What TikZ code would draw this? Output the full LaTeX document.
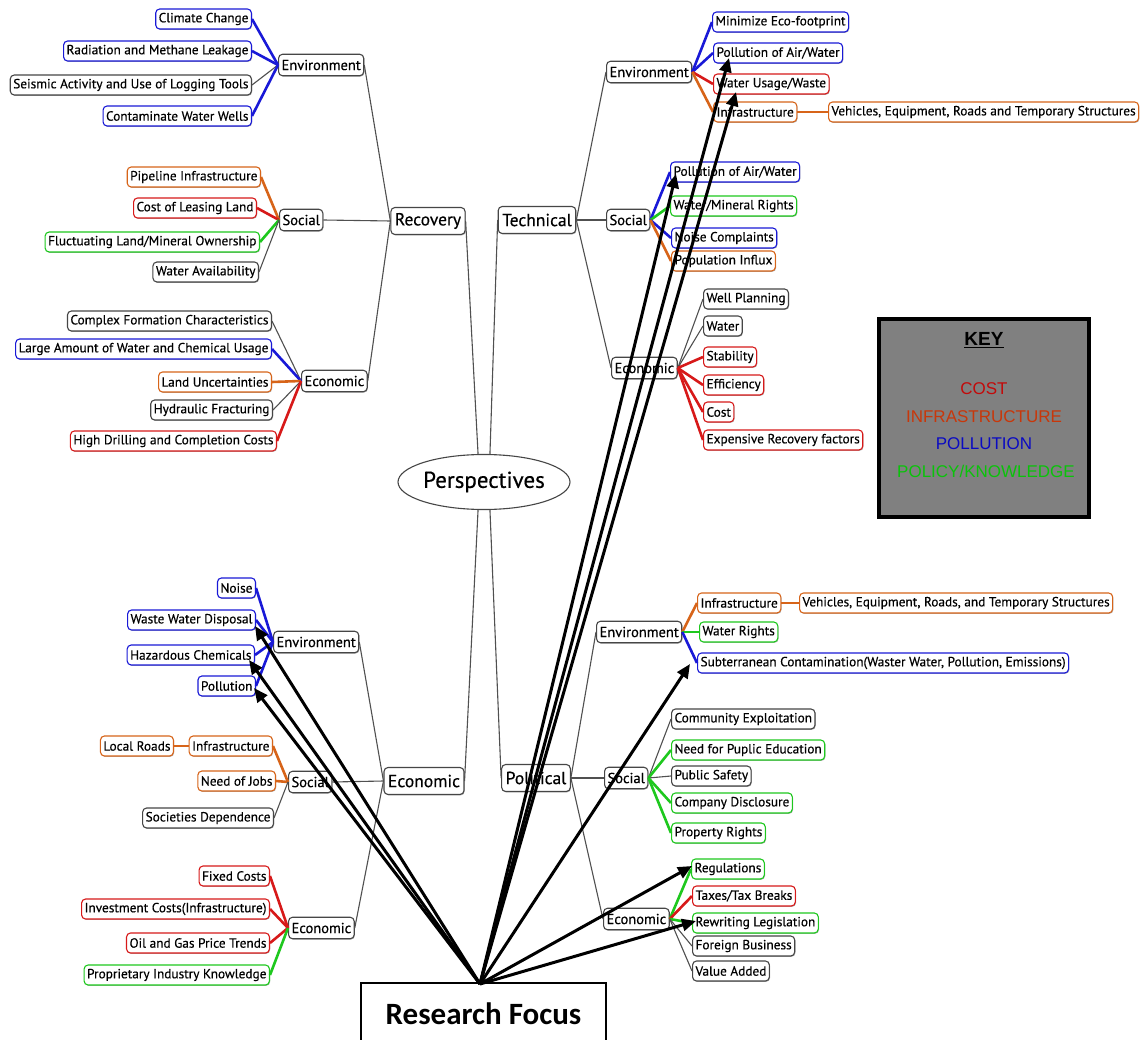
\documentclass[tikz,border=0pt]{standalone}
\usepackage{fontspec}
\setmainfont{PT Sans}
\newfontfamily\nodefont[FakeBold=0.4]{PT Sans}
\newfontfamily\keyfont{Liberation Sans}
\newfontfamily\focusfont{Carlito}
\usetikzlibrary{arrows.meta,shapes.geometric,shadows}

\definecolor{catblue}{RGB}{25,25,215}
\definecolor{catred}{RGB}{215,25,25}
\definecolor{catgreen}{RGB}{30,200,30}
\definecolor{catorange}{RGB}{215,100,25}
\definecolor{boxgrey}{RGB}{70,70,70}
\definecolor{linkgrey}{RGB}{80,80,80}
\definecolor{keygrey}{RGB}{128,128,128}
\definecolor{keyred}{RGB}{195,10,10}
\definecolor{keyorange}{RGB}{200,55,10}
\definecolor{keyblue}{RGB}{10,10,195}
\definecolor{keygreen}{RGB}{10,195,10}

\newcommand\lfsz{\nodefont\fontsize{13.3}{15}\selectfont}
\newcommand\sbsz{\nodefont\fontsize{14.5}{16}\selectfont}
\newcommand\mnsz{\nodefont\fontsize{17.5}{20}\selectfont}
\newcommand\pfsz{\nodefont\fontsize{23}{25}\selectfont}

\begin{document}
\begin{tikzpicture}[x=1pt,y=-1pt,
  box/.style={draw=boxgrey, fill=white, rounded corners=4pt, line width=1.1pt,
    inner xsep=3pt, inner ysep=1pt, text=black,
    drop shadow={shadow xshift=0.7pt, shadow yshift=-0.9pt, opacity=0.3, fill=black}},
  leaf/.style={box, font=\lfsz, minimum height=20pt},
  subnode/.style={box, font=\sbsz, minimum height=21.5pt},
  topic/.style={box, font=\mnsz, minimum height=27pt, inner xsep=4pt},
  cb/.style={draw=catblue}, cr/.style={draw=catred},
  cg/.style={draw=catgreen}, co/.style={draw=catorange},
  ln/.style={draw=linkgrey, line width=1.1pt},
  lb/.style={draw=catblue, line width=2.6pt},
  lr/.style={draw=catred, line width=2.6pt},
  lg/.style={draw=catgreen, line width=2.6pt},
  lo/.style={draw=catorange, line width=2.6pt},
  lochain/.style={draw=catorange, line width=1.6pt},
  focusarrow/.style={draw=black, line width=3pt, -{Triangle[length=14pt,width=12pt]}},
  keytext/.style={font=\keyfont\fontsize{17}{19}\selectfont}
]
\useasboundingbox (0,0) rectangle (1143,1040);
\fill[white] (0,0) rectangle (1143,1040);

% ---------- centre ----------
\node[ellipse, draw=boxgrey, line width=1.1pt, fill=white, minimum width=144pt,
  minimum height=55pt, inner sep=0pt, font=\pfsz] (persp) at (484,482) {Perspectives};

\node[topic] (recov) at (428,221) {Recovery};
\node[topic] (tech) at (537,220) {Technical};
\node[topic] (econ) at (424,781) {Economic};
\node[topic] (pol) at (536,778) {Political};

% ---------- Recovery ----------
\node[subnode, anchor=west] (renv) at (278,65) {Environment};
\node[leaf, cb, anchor=east] (rcc) at (252,19) {Climate Change};
\node[leaf, cb, anchor=east] (rrad) at (252,51) {Radiation and Methane Leakage};
\node[leaf, anchor=east] (rseis) at (252,85) {Seismic Activity and Use of Logging Tools};
\node[leaf, cb, anchor=east] (rcont) at (252,116) {Contaminate Water Wells};

\node[subnode, anchor=west] (rsoc) at (279,220) {Social};
\node[leaf, co, anchor=east] (rpipe) at (261,177) {Pipeline Infrastructure};
\node[leaf, cr, anchor=east] (rcost) at (257,208) {Cost of Leasing Land};
\node[leaf, cg, anchor=east] (rfluct) at (260,242) {Fluctuating Land/Mineral Ownership};
\node[leaf, anchor=east] (rwater) at (259,272) {Water Availability};

\node[subnode, anchor=west] (recon) at (301,381) {Economic};
\node[leaf, anchor=east] (rcomplex) at (272,321) {Complex Formation Characteristics};
\node[leaf, cb, anchor=east] (rlarge) at (272,349) {Large Amount of Water and Chemical Usage};
\node[leaf, co, anchor=east] (rland) at (272,382) {Land Uncertainties};
\node[leaf, anchor=east] (rhydro) at (273,410) {Hydraulic Fracturing};
\node[leaf, cr, anchor=east] (rdrill) at (277,441) {High Drilling and Completion Costs};

% ---------- Technical ----------
\node[subnode, anchor=west] (tenv) at (606,72) {Environment};
\node[leaf, cb, anchor=west] (tmin) at (712,22) {Minimize Eco-footprint};
\node[leaf, cb, anchor=west] (tpol) at (713,53) {Pollution of Air/Water};
\node[leaf, cr, anchor=west] (twu) at (713,84) {Water Usage/Waste};
\node[leaf, co, anchor=west] (tinf) at (713,112) {Infrastructure};
\node[leaf, co, anchor=west] (tveh) at (828,112) {Vehicles, Equipment, Roads and Temporary Structures};

\node[subnode, anchor=west] (tsoc) at (606,220) {Social};
\node[leaf, cb, anchor=west] (tspol) at (670,172) {Pollution of Air/Water};
\node[leaf, cg, anchor=west] (tsmin) at (670,206) {Water/Mineral Rights};
\node[leaf, cb, anchor=west] (tsnoise) at (671,238) {Noise Complaints};
\node[leaf, co, anchor=west] (tspop) at (671,261) {Population Influx};

\node[subnode, anchor=west] (tecon) at (611,368) {Economic};
\node[leaf, anchor=west] (twell) at (703,299) {Well Planning};
\node[leaf, anchor=west] (twat) at (703,326) {Water};
\node[leaf, cr, anchor=west] (tstab) at (703,357) {Stability};
\node[leaf, cr, anchor=west] (teff) at (703,385) {Efficiency};
\node[leaf, cr, anchor=west] (tcost) at (703,412) {Cost};
\node[leaf, cr, anchor=west] (texp) at (703,440) {Expensive Recovery factors};

% ---------- Economic ----------
\node[subnode, anchor=west] (eenv) at (273,642) {Environment};
\node[leaf, cb, anchor=east] (enoise) at (256,588) {Noise};
\node[leaf, cb, anchor=east] (ewaste) at (256,620) {Waste Water Disposal};
\node[leaf, cb, anchor=east] (ehaz) at (255,655) {Hazardous Chemicals};
\node[leaf, cb, anchor=east] (epoll) at (256,686) {Pollution};

\node[subnode, anchor=west] (esoc) at (288,782) {Social};
\node[leaf, co, anchor=east] (einf) at (273,746) {Infrastructure};
\node[leaf, co, anchor=east] (eroads) at (174,746) {Local Roads};
\node[leaf, co, anchor=east] (ejobs) at (276,781) {Need of Jobs};
\node[leaf, anchor=east] (edep) at (274,818) {Societies Dependence};

\node[subnode, anchor=west] (eecon) at (288,928) {Economic};
\node[leaf, cr, anchor=east] (efixed) at (270,876) {Fixed Costs};
\node[leaf, cr, anchor=east] (einv) at (270,909) {Investment Costs(Infrastructure)};
\node[leaf, cr, anchor=east] (eoil) at (270,943) {Oil and Gas Price Trends};
\node[leaf, cg, anchor=east] (eprop) at (270,975) {Proprietary Industry Knowledge};

% ---------- Political ----------
\node[subnode, anchor=west] (penv) at (596,632) {Environment};
\node[leaf, co, anchor=west] (pinf) at (697,603) {Infrastructure};
\node[leaf, co, anchor=west] (pveh) at (799,603) {Vehicles, Equipment, Roads, and Temporary Structures};
\node[leaf, cg, anchor=west] (pwr) at (699,632) {Water Rights};
\node[leaf, cb, anchor=west] (psub) at (697,663) {Subterranean Contamination(Waster Water, Pollution, Emissions)};

\node[subnode, anchor=west] (psoc) at (604,778) {Social};
\node[leaf, anchor=west] (pcomm) at (671,719) {Community Exploitation};
\node[leaf, cg, anchor=west] (pedu) at (671,750) {Need for Puplic Education};
\node[leaf, anchor=west] (psafe) at (671,776) {Public Safety};
\node[leaf, cg, anchor=west] (pdisc) at (671,803) {Company Disclosure};
\node[leaf, cg, anchor=west] (pprop) at (671,833) {Property Rights};

\node[subnode, anchor=west] (pecon) at (603,919) {Economic};
\node[leaf, cg, anchor=west] (preg) at (691,869) {Regulations};
\node[leaf, cr, anchor=west] (ptax) at (692,896) {Taxes/Tax Breaks};
\node[leaf, cg, anchor=west] (prew) at (692,923) {Rewriting Legislation};
\node[leaf, anchor=west] (pfor) at (692,946) {Foreign Business};
\node[leaf, anchor=west] (pval) at (692,971) {Value Added};

% ---------- links: centre to topics ----------
\draw[ln] (persp.102) -- (recov.east);
\draw[ln] (persp.78) -- (tech.west);
\draw[ln] (persp.258) -- (econ.east);
\draw[ln] (persp.282) -- (pol.west);

% ---------- links: topics to aspects ----------
\draw[ln] (recov.west) -- (renv.east);
\draw[ln] (recov.west) -- (rsoc.east);
\draw[ln] (recov.west) -- (recon.east);
\draw[ln] (tech.east) -- (tenv.west);
\draw[ln] (tech.east) -- (tsoc.west);
\draw[ln] (tech.east) -- (tecon.west);
\draw[ln] (econ.west) -- (eenv.east);
\draw[ln] (econ.west) -- (esoc.east);
\draw[ln] (econ.west) -- (eecon.east);
\draw[ln] (pol.east) -- (penv.west);
\draw[ln] (pol.east) -- (psoc.west);
\draw[ln] (pol.east) -- (pecon.west);

% ---------- links: aspects to items ----------
\draw[lb] (renv.west) -- (rcc.east);
\draw[lb] (renv.west) -- (rrad.east);
\draw[ln] (renv.west) -- (rseis.east);
\draw[lb] (renv.west) -- (rcont.east);
\draw[lo] (rsoc.west) -- (rpipe.east);
\draw[lr] (rsoc.west) -- (rcost.east);
\draw[lg] (rsoc.west) -- (rfluct.east);
\draw[ln] (rsoc.west) -- (rwater.east);
\draw[ln] (recon.west) -- (rcomplex.east);
\draw[lb] (recon.west) -- (rlarge.east);
\draw[lo] (recon.west) -- (rland.east);
\draw[ln] (recon.west) -- (rhydro.east);
\draw[lr] (recon.west) -- (rdrill.east);

\draw[lb] (tenv.east) -- (tmin.west);
\draw[lb] (tenv.east) -- (tpol.west);
\draw[lr] (tenv.east) -- (twu.west);
\draw[lo] (tenv.east) -- (tinf.west);
\draw[lochain] (tinf.east) -- (tveh.west);
\draw[lb] (tsoc.east) -- (tspol.west);
\draw[lg] (tsoc.east) -- (tsmin.west);
\draw[lb] (tsoc.east) -- (tsnoise.west);
\draw[lo] (tsoc.east) -- (tspop.west);
\draw[ln] (tecon.east) -- (twell.west);
\draw[ln] (tecon.east) -- (twat.west);
\draw[lr] (tecon.east) -- (tstab.west);
\draw[lr] (tecon.east) -- (teff.west);
\draw[lr] (tecon.east) -- (tcost.west);
\draw[lr] (tecon.east) -- (texp.west);

\draw[lb] (eenv.west) -- (enoise.east);
\draw[lb] (eenv.west) -- (ewaste.east);
\draw[lb] (eenv.west) -- (ehaz.east);
\draw[lb] (eenv.west) -- (epoll.east);
\draw[lo] (esoc.west) -- (einf.east);
\draw[lochain] (einf.west) -- (eroads.east);
\draw[lo] (esoc.west) -- (ejobs.east);
\draw[ln] (esoc.west) -- (edep.east);
\draw[lr] (eecon.west) -- (efixed.east);
\draw[lr] (eecon.west) -- (einv.east);
\draw[lr] (eecon.west) -- (eoil.east);
\draw[lg] (eecon.west) -- (eprop.east);

\draw[lo] (penv.east) -- (pinf.west);
\draw[lochain] (pinf.east) -- (pveh.west);
\draw[lg] (penv.east) -- (pwr.west);
\draw[lb] (penv.east) -- (psub.west);
\draw[ln] (psoc.east) -- (pcomm.west);
\draw[lg] (psoc.east) -- (pedu.west);
\draw[ln] (psoc.east) -- (psafe.west);
\draw[lg] (psoc.east) -- (pdisc.west);
\draw[lg] (psoc.east) -- (pprop.west);
\draw[lg] (pecon.east) -- (preg.west);
\draw[lr] (pecon.east) -- (ptax.west);
\draw[lg] (pecon.east) -- (prew.west);
\draw[ln] (pecon.east) -- (pfor.west);
\draw[ln] (pecon.east) -- (pval.west);

% ---------- key ----------
\node[draw=black, line width=4pt, fill=keygrey, minimum width=210pt,
  minimum height=198pt] (keybox) at (984,418) {};
\node[keytext, font=\keyfont\bfseries\fontsize{19}{21}\selectfont] (keyhead) at (984,340) {\underline{KEY}};
\node[keytext, text=keyred] (kcost) at (984,389) {COST};
\node[keytext, text=keyorange] (kinfra) at (984,417) {INFRASTRUCTURE};
\node[keytext, text=keyblue] (kpoll) at (984,444) {POLLUTION};
\node[keytext, text=keygreen] (kpolicy) at (986,471) {POLICY/KNOWLEDGE};

% ---------- research focus ----------
\node[draw=black, line width=1.5pt, fill=white, minimum width=245pt, minimum height=62pt,
  font=\focusfont\bfseries\fontsize{31}{34}\selectfont] (focus) at (483.5,1014) {Research Focus};
\coordinate (fsrc) at (480,984);

\coordinate (tipA) at (729,58);
\coordinate (tipB) at (736,92);
\coordinate (tipC) at (676,174);
\coordinate (tipD) at (690,664);
\coordinate (tipE) at (692,866);
\coordinate (tipF) at (696,921);
\coordinate (tipG) at (255,626);
\coordinate (tipH) at (249,660);
\coordinate (tipI) at (254,688);

\foreach \t in {tipA,tipB,tipC,tipD,tipE,tipF,tipG,tipH,tipI}
  \draw[focusarrow] (fsrc) -- (\t);
\end{tikzpicture}
\end{document}
